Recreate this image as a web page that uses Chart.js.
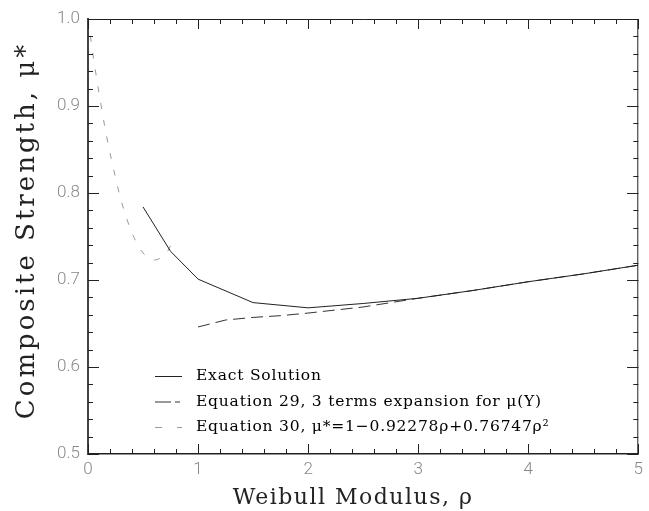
<!DOCTYPE html>
<html><head><meta charset="utf-8">
<script src="https://cdn.jsdelivr.net/npm/chart.js@4/dist/chart.umd.min.js"></script>
<style>html,body{margin:0;padding:0;background:#fff}#wrap{width:649px;height:511px}</style>
</head><body><div id="wrap"><canvas id="c" width="649" height="511"></canvas></div>
<script>
// ---- data ----
const rhoExact = [0.5, 0.75, 1.0, 1.5, 2.0, 2.5, 3.0, 3.5, 4.0, 4.5, 5.0];
const muExact  = [0.784, 0.733, 0.701, 0.674, 0.668, 0.673, 0.679, 0.688, 0.698, 0.707, 0.717];
const rhoEq29  = [1.0, 1.25, 1.5, 1.75, 2.0, 2.5, 3.0, 3.5, 4.0, 4.5, 5.0];
const muEq29   = [0.646, 0.654, 0.657, 0.659, 0.662, 0.669, 0.679, 0.688, 0.698, 0.707, 0.717];
const rhoEq30  = [0.0, 0.05, 0.1, 0.15, 0.2, 0.3, 0.4, 0.5, 0.6, 0.7, 0.78];
const muEq30   = [1.0, 0.955, 0.915, 0.878, 0.846, 0.792, 0.754, 0.731, 0.723, 0.729, 0.747];
const seriesLabels = ['Exact Solution', 'Equation 29, 3 terms expansion for \u03bc(Y)', 'Equation 30, \u03bc*=1\u22120.92278\u03c1+0.76747\u03c1\u00b2'];
const xTickValues = [0, 1, 2, 3, 4, 5];
const yTickValues = [0.5, 0.6, 0.7, 0.8, 0.9, 1.0];
const xTitle = 'Weibull Modulus, \u03c1';
const yTitle = 'Composite Strength, \u03bc*';

const pts = (xs, ys) => xs.map((v, i) => ({x: v, y: ys[i]}));

const frameTicks = {
  id: 'frameTicks',
  afterDatasetsDraw(chart) {
    const {ctx, chartArea: a, scales: {x, y}} = chart;
    ctx.save();
    ctx.strokeStyle = '#222';
    ctx.lineWidth = 1;
    ctx.beginPath();
    ctx.moveTo(a.left, a.top + 0.5); ctx.lineTo(a.right, a.top + 0.5);
    ctx.moveTo(a.right - 0.5, a.top); ctx.lineTo(a.right - 0.5, a.bottom);
    const sub = 5;
    const xs = xTickValues, ys = yTickValues;
    for (let i = 0; i < xs.length - 1; i++) {
      for (let k = 0; k <= sub; k++) {
        const v = xs[i] + (xs[i + 1] - xs[i]) * k / sub;
        const px = Math.round(x.getPixelForValue(v)) + 0.5;
        const L = (k === 0 || k === sub) ? 10 : 5;
        ctx.moveTo(px, a.bottom); ctx.lineTo(px, a.bottom - L);
        ctx.moveTo(px, a.top); ctx.lineTo(px, a.top + L);
      }
    }
    for (let i = 0; i < ys.length - 1; i++) {
      for (let k = 0; k <= sub; k++) {
        const v = ys[i] + (ys[i + 1] - ys[i]) * k / sub;
        const py = Math.round(y.getPixelForValue(v)) + 0.5;
        const L = (k === 0 || k === sub) ? 11 : 5;
        ctx.moveTo(a.left, py); ctx.lineTo(a.left + L, py);
        ctx.moveTo(a.right, py); ctx.lineTo(a.right - L, py);
      }
    }
    ctx.stroke();
    // legend inside the plot
    const lx = a.left + 67, tx = a.left + 108;
    let ly = a.bottom - 78;
    chart.data.datasets.forEach((ds, i) => {
      ctx.save();
      ctx.strokeStyle = ds.borderColor;
      ctx.lineWidth = ds.borderWidth;
      ctx.setLineDash(ds.legendDash || ds.borderDash || []);
      ctx.beginPath();
      ctx.moveTo(lx, ly + 0.5); ctx.lineTo(lx + 27, ly + 0.5);
      ctx.stroke();
      ctx.restore();
      ctx.save();
      ctx.fillStyle = '#000';
      ctx.font = '15.5px "DejaVu Serif"';
      ctx.letterSpacing = '0.8px';
      ctx.textBaseline = 'middle';
      ctx.textAlign = 'left';
      ctx.fillText(ds.label, tx, ly);
      ctx.restore();
      ly += 25.5;
    });
    ctx.restore();
  }
};

const patchTitles = {
  id: 'patchTitles',
  beforeDraw(chart) {
    const ys = chart.scales.y;
    if (!ys._patched) {
      const orig = ys.drawTitle.bind(ys);
      ys.drawTitle = function () {
        const c = this.ctx; c.save(); c.letterSpacing = '3px'; c.translate(0, -6); orig(); c.restore();
      };
      ys._patched = true;
    }
    const xs = chart.scales.x;
    if (!xs._patched) {
      const orig = xs.drawTitle.bind(xs);
      xs.drawTitle = function () {
        const c = this.ctx; c.save(); c.letterSpacing = '1.5px'; c.translate(-10, 0); orig(); c.restore();
      };
      xs._patched = true;
    }
  }
};

new Chart(document.getElementById('c'), {
  type: 'scatter',
  data: {
    datasets: [
      {label: seriesLabels[0], data: pts(rhoExact, muExact), showLine: true, borderColor: '#222', borderWidth: 1, pointRadius: 0, tension: 0},
      {label: seriesLabels[1], data: pts(rhoEq29, muEq29), showLine: true, borderColor: '#333', borderWidth: 1, borderDash: [12, 6], legendDash: [16, 4, 5, 20], pointRadius: 0, tension: 0},
      {label: seriesLabels[2], data: pts(rhoEq30, muEq30), showLine: true, borderColor: '#999', borderWidth: 1, borderDash: [6, 11], legendDash: [7, 15, 7, 20], pointRadius: 0, tension: 0.3}
    ]
  },
  options: {
    responsive: false,
    animation: false,
    layout: {padding: {top: 19, right: 2, left: 0, bottom: 0}},
    plugins: {legend: {display: false}, tooltip: {enabled: false}},
    scales: {
      x: {
        type: 'linear', min: 0, max: 5,
        afterBuildTicks: s => { s.ticks = xTickValues.map(v => ({value: v})); },
        afterFit: s => { s.height = 57; },
        grid: {display: false, drawTicks: false},
        border: {display: true, color: '#222', width: 1.5},
        ticks: {padding: 6, color: '#888', font: {family: 'Roboto', size: 17, weight: 300}, callback: v => String(v)},
        title: {display: true, text: xTitle, color: '#222', font: {family: 'DejaVu Serif', size: 22}, padding: {top: 0, bottom: 0}}
      },
      y: {
        type: 'linear', min: 0.5, max: 1.0,
        afterBuildTicks: s => { s.ticks = yTickValues.map(v => ({value: v})); },
        afterFit: s => { s.width = 88; },
        grid: {display: false, drawTicks: false},
        border: {display: true, color: '#444', width: 2},
        ticks: {padding: 8, color: '#888', font: {family: 'Roboto', size: 17, weight: 300}, callback: v => Number(v).toFixed(1)},
        title: {display: true, text: yTitle, color: '#222', font: {family: 'DejaVu Serif', size: 26}, padding: {top: 12, bottom: 0}}
      }
    }
  },
  plugins: [frameTicks, patchTitles]
});
</script></body></html>
